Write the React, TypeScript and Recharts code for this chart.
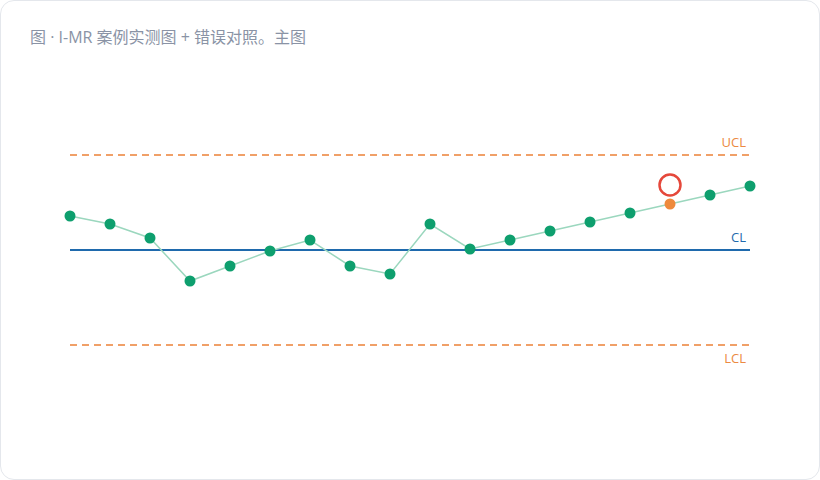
import React from 'react';
import { LineChart, Line, XAxis, YAxis, ReferenceLine } from 'recharts';

const title = '图 · I-MR 案例实测图 + 错误对照。主图';
const samples = [0, 1, 2, 3, 4, 5, 6, 7, 8, 9, 10, 11, 12, 13, 14, 15, 16, 17];
const values = [53.4, 52.6, 51.2, 46.9, 48.4, 49.9, 51.0, 48.4, 47.6, 52.6, 50.1, 51.0, 51.9, 52.8, 53.7, 54.6, 55.5, 56.4];
const flagged = [15];
const UCL = 59.5;
const CL = 50;
const LCL = 40.5;

const data = samples.map((s, i) => ({ sample: s, value: values[i] }));

const font = '"Open Sans", "Noto Sans", "Noto Sans CJK SC", sans-serif';

const renderDot = (props: any) => {
  const { cx, cy, index } = props;
  if (flagged.includes(index)) {
    return (
      <g key={`dot-${index}`}>
        <circle cx={cx} cy={cy - 19} r={10.5} fill="none" stroke="#e5483b" strokeWidth={2.5} />
        <circle cx={cx} cy={cy} r={5.5} fill="#ee8a3c" />
      </g>
    );
  }
  return <circle key={`dot-${index}`} cx={cx} cy={cy} r={5.5} fill="#0e9f6e" />;
};

const limitLabel = (text: string, color: string, dy: number) => (props: any) => {
  const { viewBox } = props;
  return (
    <text
      x={viewBox.x + viewBox.width - 4}
      y={viewBox.y + dy}
      textAnchor="end"
      fill={color}
      fontSize={13}
      fontFamily={font}
    >
      {text}
    </text>
  );
};

export default function App() {
  return (
    <div
      style={{
        position: 'absolute',
        left: 0,
        top: 0,
        width: 818,
        height: 478,
        background: '#fff',
        border: '1px solid #e4e7ec',
        borderRadius: 14,
        overflow: 'hidden',
      }}
    >
      <div
        style={{
          position: 'absolute',
          left: 29,
          top: 23,
          fontSize: 16,
          color: '#8a93a5',
          fontFamily: font,
        }}
      >
        {title}
      </div>
      <div style={{ position: 'absolute', left: -1, top: -1 }}>
        <LineChart width={820} height={480} data={data} margin={{ top: 50, right: 70, bottom: 30, left: 70 }}>
          <XAxis type="number" dataKey="sample" domain={[0, 17]} hide />
          <YAxis type="number" domain={[30, 70]} hide />
          <ReferenceLine
            y={UCL}
            stroke="#f0a068"
            strokeWidth={2}
            strokeDasharray="7 5"
            label={limitLabel('UCL', '#ec8a42', -8)}
          />
          <ReferenceLine y={CL} stroke="#1f6aad" strokeWidth={2} label={limitLabel('CL', '#1f6aad', -8)} />
          <ReferenceLine
            y={LCL}
            stroke="#f0a068"
            strokeWidth={2}
            strokeDasharray="7 5"
            label={limitLabel('LCL', '#ec8a42', 18)}
          />
          <Line
            type="linear"
            dataKey="value"
            stroke="#9bd7be"
            strokeWidth={1.5}
            dot={renderDot}
            activeDot={false}
            isAnimationActive={false}
          />
        </LineChart>
      </div>
    </div>
  );
}
